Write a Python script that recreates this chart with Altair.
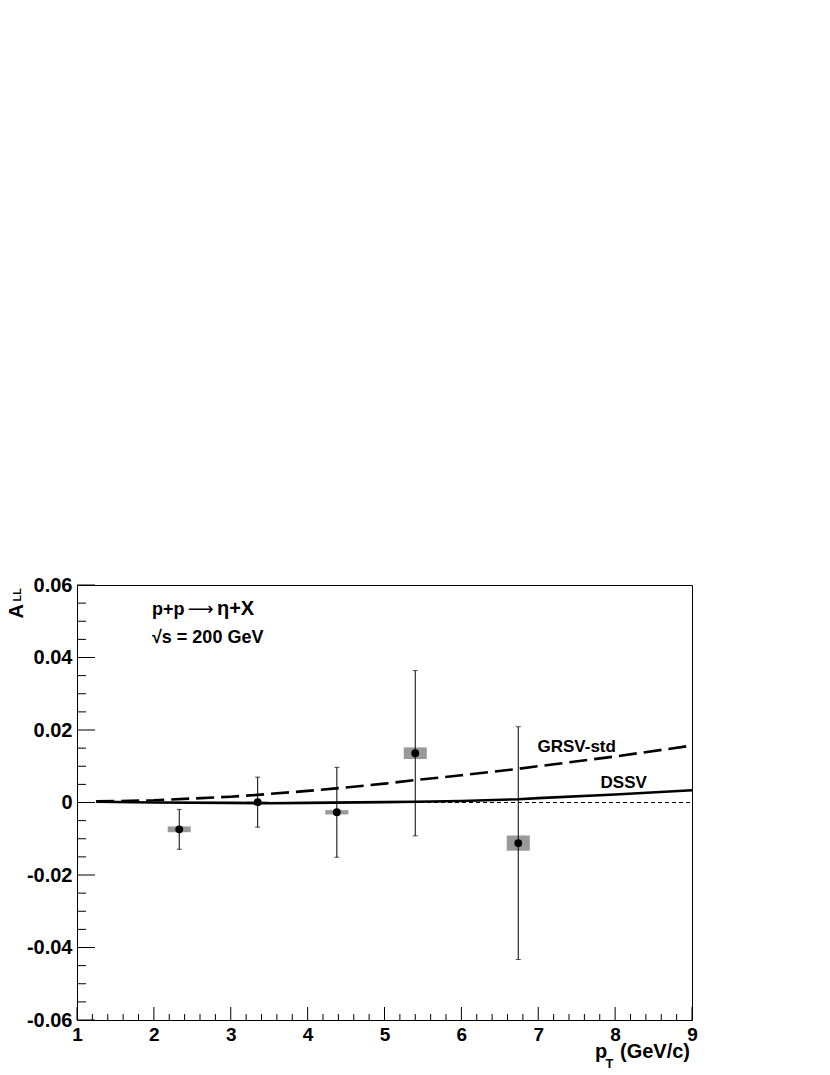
import altair as alt
import pandas as pd

# ---------------- data ----------------
pt = [2.33, 3.35, 4.38, 5.40, 6.74]
a_ll = [-0.0074, 0.0001, -0.0027, 0.0136, -0.0112]
stat_err = [0.0055, 0.0069, 0.0124, 0.0228, 0.0321]
sys_err = [0.0008, 0.0002, 0.0006, 0.0016, 0.0021]
sys_half_width = [0.15, 0.15, 0.15, 0.15, 0.15]

grsv_x = [1.25, 2.0, 3.0, 3.35, 4.0, 4.37, 5.0, 5.4, 6.0, 6.74, 7.0, 8.0, 9.0]
grsv_y = [0.0003, 0.0006, 0.0016, 0.0021, 0.0032, 0.0039, 0.0052, 0.0062,
          0.0075, 0.0093, 0.0100, 0.0127, 0.0157]
dssv_x = [1.25, 2.0, 3.0, 3.5, 4.0, 5.0, 5.4, 6.0, 6.74, 7.0, 8.0, 9.0]
dssv_y = [0.0002, 0.0000, -0.0001, -0.0002, -0.0001, 0.0001, 0.0002, 0.0004,
          0.0009, 0.0012, 0.0022, 0.0034]

x_major = [1, 2, 3, 4, 5, 6, 7, 8, 9]
y_major = [-0.06, -0.04, -0.02, 0.0, 0.02, 0.04, 0.06]
x_minor = [round(1 + 0.2 * i, 2) for i in range(41) if i % 5]
y_minor = [round(-0.06 + 0.005 * i, 3) for i in range(25) if i % 4]
zero_line = [1, 9]

FONT = "Liberation Sans"
W, H = 615, 435

pts = pd.DataFrame({"pt": pt, "all": a_ll, "stat": stat_err, "sys": sys_err,
                    "hw": sys_half_width})
grsv = pd.DataFrame({"x": grsv_x, "y": grsv_y})
dssv = pd.DataFrame({"x": dssv_x, "y": dssv_y})

xs = alt.Scale(domain=[1, 9], nice=False, zero=False)
ys = alt.Scale(domain=[-0.06, 0.06], nice=False, zero=False)

# The rotated y title "A_LL": "A" is the y-axis title, the subscript "LL"
# is carried by the x-axis title (rotated and moved next to the "A").
xaxis = alt.Axis(values=x_major, title="LL", ticks=False, domain=False, grid=False,
                 labelFont=FONT, labelFontWeight="bold", labelFontSize=19,
                 labelColor="black", labelPadding=5, labelFlush=False,
                 labelOverlap=False, labelBound=False,
                 labelExpr="format(datum.value, 'd')",
                 titleFont=FONT, titleFontWeight="bold", titleFontSize=11,
                 titleColor="black", titleAngle=270, titleAlign="left",
                 titleBaseline="alphabetic", titleX=-57, titleY=16 - H)
yaxis = alt.Axis(values=y_major, title="A", ticks=False, domain=False, grid=False,
                 labelFont=FONT, labelFontWeight="bold", labelFontSize=20,
                 labelColor="black", labelPadding=5, labelOverlap=False,
                 labelBound=False, labelFlush=False,
                 labelExpr="datum.value == 0 ? '0' : (datum.value < 0 ? '-' : '') + format(abs(datum.value), '.2f')",
                 titleFont=FONT, titleFontWeight="bold", titleFontSize=20,
                 titleColor="black", titleAngle=270, titleAlign="left",
                 titleBaseline="alphabetic", titleX=-55, titleY=33)


def X(f):
    return alt.X(f, type="quantitative", scale=xs, axis=xaxis)


def Y(f):
    return alt.Y(f, type="quantitative", scale=ys, axis=yaxis)


# zero reference line
zero = alt.Chart(pd.DataFrame({"x": zero_line, "y": [0, 0]})).mark_line(
    color="black", strokeWidth=1, strokeDash=[4, 3]).encode(x=X("x"), y=Y("y"))

# theory curves
grsv_line = alt.Chart(grsv).mark_line(color="black", strokeWidth=2.6,
                                      strokeDash=[18, 7]).encode(x=X("x"), y=Y("y"))
dssv_line = alt.Chart(dssv).mark_line(color="black", strokeWidth=2.6).encode(
    x=X("x"), y=Y("y"))

base = alt.Chart(pts).transform_calculate(
    x1="datum.pt - datum.hw", x2="datum.pt + datum.hw",
    s1="datum.all - datum.sys", s2="datum.all + datum.sys",
    e1="datum.all - datum.stat", e2="datum.all + datum.stat")

sys_boxes = base.mark_rect(color="#999999").encode(
    x=X("x1"), x2="x2", y=Y("s1"), y2="s2")
err_bars = base.mark_rule(color="black", strokeWidth=1).encode(
    x=X("pt"), y=Y("e1"), y2="e2")
cap_lo = base.mark_tick(color="black", thickness=1, size=5, orient="horizontal").encode(
    x=X("pt"), y=Y("e1"))
cap_hi = base.mark_tick(color="black", thickness=1, size=5, orient="horizontal").encode(
    x=X("pt"), y=Y("e2"))
points = base.mark_circle(color="black", opacity=1, size=62).encode(
    x=X("pt"), y=Y("all"))

# inside ticks (ROOT style)
xt_major = alt.Chart(pd.DataFrame({"v": x_major})).mark_rule(color="black", strokeWidth=1).encode(
    x=X("v"), y=alt.value(H), y2=alt.value(H - 13))
xt_minor = alt.Chart(pd.DataFrame({"v": x_minor})).mark_rule(color="black", strokeWidth=1).encode(
    x=X("v"), y=alt.value(H), y2=alt.value(H - 6))
yt_major = alt.Chart(pd.DataFrame({"v": y_major})).mark_rule(color="black", strokeWidth=1).encode(
    y=Y("v"), x=alt.value(0), x2=alt.value(18))
yt_minor = alt.Chart(pd.DataFrame({"v": y_minor})).mark_rule(color="black", strokeWidth=1).encode(
    y=Y("v"), x=alt.value(0), x2=alt.value(9))


def txt(s, x, y, size, align="left", font=FONT, weight="bold"):
    return alt.Chart(pd.DataFrame({"t": [s]})).mark_text(
        font=font, fontWeight=weight, fontSize=size, color="black",
        align=align, baseline="alphabetic").encode(x=x, y=y, text="t:N")


annotations = [
    txt("p+p", alt.datum(1.975, scale=xs), alt.datum(0.0517, scale=ys), 18),
    txt("\u27f6", alt.datum(2.44, scale=xs), alt.datum(0.0517, scale=ys), 18,
        font="DejaVu Sans", weight="normal"),
    txt("\u03b7+X", alt.datum(2.82, scale=xs), alt.datum(0.0517, scale=ys), 20),
    txt("\u221as = 200 GeV", alt.datum(1.975, scale=xs), alt.datum(0.0440, scale=ys), 18),
    txt("GRSV-std", alt.datum(6.99, scale=xs), alt.datum(0.0140, scale=ys), 17),
    txt("DSSV", alt.datum(7.81, scale=xs), alt.datum(0.0039, scale=ys), 17),
    # x axis title  p_T (GeV/c)
    txt("p", alt.value(518), alt.value(473), 20),
    txt("T", alt.value(528.5), alt.value(483), 13),
    txt("(GeV/c)", alt.value(613), alt.value(473), 20, align="right"),
]

chart = alt.layer(
    zero, sys_boxes, grsv_line, dssv_line, err_bars, cap_lo, cap_hi, points,
    xt_major, xt_minor, yt_major, yt_minor, *annotations
).properties(
    width=W, height=H,
    autosize=alt.AutoSizeParams(type="none"),
    padding={"left": 69, "top": 577, "right": 60, "bottom": 52},
    background="white",
).configure_view(stroke="black", strokeWidth=1)

chart.save("out.html", embed_options={"renderer": "svg", "actions": False})
